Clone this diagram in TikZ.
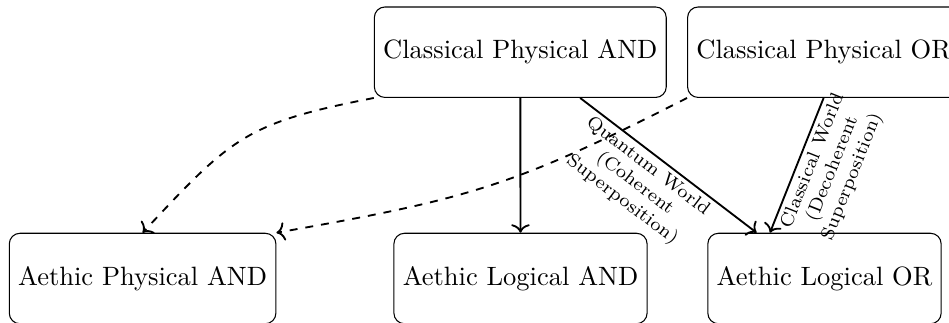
\documentclass[tikz,border=0pt]{standalone}
\usetikzlibrary{arrows.meta}
\begin{document}
\begin{tikzpicture}[x=0.3774pt,y=0.3774pt,
  box/.style={draw, rounded corners, minimum height=1.2cm, inner sep=0.3333em},
  tipstyle/.style={-{To[length=3.2pt, width=7pt]}},
  conn/.style={tipstyle, line width=0.7pt},
  dconn/.style={tipstyle, line width=0.7pt, dashed},
  lab/.style={font=\scriptsize, align=center, sloped, below, inner sep=1.5pt}]
\useasboundingbox (0,0) rectangle (949,-322);
\node[box] (cpa) at (520.3,-52.2) {Classical Physical AND};
\node[box] (cpo) at (823.6,-52.2) {Classical Physical OR};
\node[box] (apa) at (142.6,-278.5) {Aethic Physical AND};
\node[box] (ala) at (520.5,-278.5) {Aethic Logical AND};
\node[box] (alo) at (824.5,-278.5) {Aethic Logical OR};
\draw[conn] (cpa) -- (ala);
\draw[conn] (cpa) -- node[lab, pos=0.43] {Quantum World\\(Coherent\\Superposition)} (alo.146);
\draw[conn] (cpo.south) -- node[lab, pos=0.43] {Classical World\\(Decoherent\\Superposition)} (alo.140);
\draw[dconn] (cpa.south west) to[out=191, in=47, looseness=1.25] (apa.north);
\draw[dconn] (cpo.south west) to[out=207, in=10, looseness=1.16] (apa.north east);
\end{tikzpicture}
\end{document}
